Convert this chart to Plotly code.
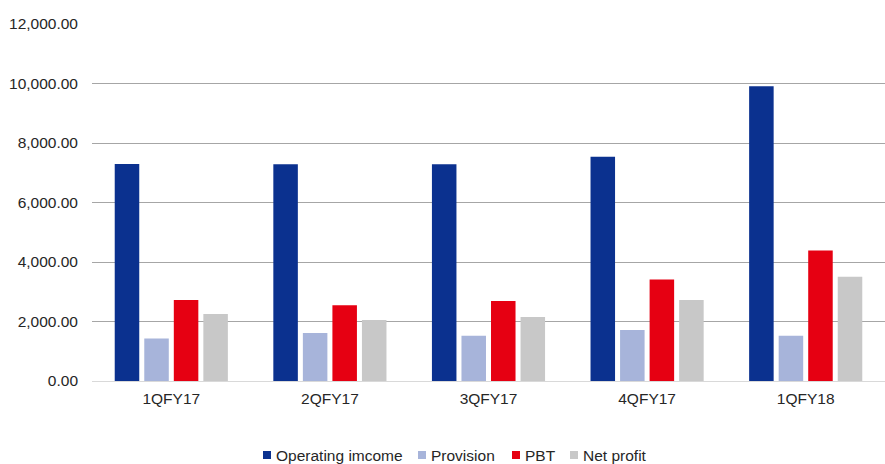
import plotly.graph_objects as go

categories = ["1QFY17", "2QFY17", "3QFY17", "4QFY17", "1QFY18"]
operating_income = [7290, 7285, 7285, 7540, 9910]
provision = [1430, 1615, 1520, 1715, 1520]
pbt = [2720, 2545, 2690, 3415, 4390]
net_profit = [2250, 2050, 2150, 2720, 3505]

series_names = ["Operating imcome", "Provision", "PBT", "Net profit"]
series_values = [operating_income, provision, pbt, net_profit]
series_colors = ["#0B318F", "#A7B4DA", "#E60012", "#C8C8C8"]

W, H = 885, 464
ML, MR, MT, MB = 92, 0, 24, 83
PW, PH = W - ML - MR, H - MT - MB
FONT = "Liberation Sans, Arial, sans-serif"


def px_x(x):
    return (x - ML) / PW


def px_y(y):
    return (H - MB - y) / PH


fig = go.Figure()
for name, vals, color in zip(series_names, series_values, series_colors):
    fig.add_trace(go.Bar(name=name, x=categories, y=vals, marker_color=color,
                         marker_line_width=0, showlegend=False))

# manual legend (small square swatches close to text, like the original)
legend_x = [263, 418, 512, 570]
shapes, annotations = [], []
for lx, name, color in zip(legend_x, series_names, series_colors):
    shapes.append(dict(type="rect", xref="paper", yref="paper",
                       x0=px_x(lx), x1=px_x(lx + 8), y0=px_y(451), y1=px_y(459),
                       fillcolor=color, line_width=0, layer="above"))
    annotations.append(dict(xref="paper", yref="paper", x=px_x(lx + 11), y=px_y(455.5),
                            xanchor="left", yanchor="middle", showarrow=False,
                            text=name, font=dict(size=15.5, color="#262626", family=FONT)))

fig.update_layout(
    width=W, height=H,
    margin=dict(l=ML, r=MR, t=MT, b=MB),
    plot_bgcolor="white", paper_bgcolor="white",
    font=dict(family=FONT, size=15.5, color="#262626"),
    barmode="group", bargap=0.255, bargroupgap=0.17,
    showlegend=False,
    shapes=shapes, annotations=annotations,
    yaxis=dict(range=[0, 12000], dtick=2000, tickformat=",.2f",
               gridcolor="#A6A6A6", gridwidth=1, showline=False,
               zeroline=True, zerolinecolor="#D9D9D9", zerolinewidth=1,
               ticks="", ticklabelstandoff=13, tickfont=dict(size=15.5)),
    xaxis=dict(showline=False, ticks="", tickfont=dict(size=15.5), ticklabelstandoff=6),
)

fig.write_html("out.html")
